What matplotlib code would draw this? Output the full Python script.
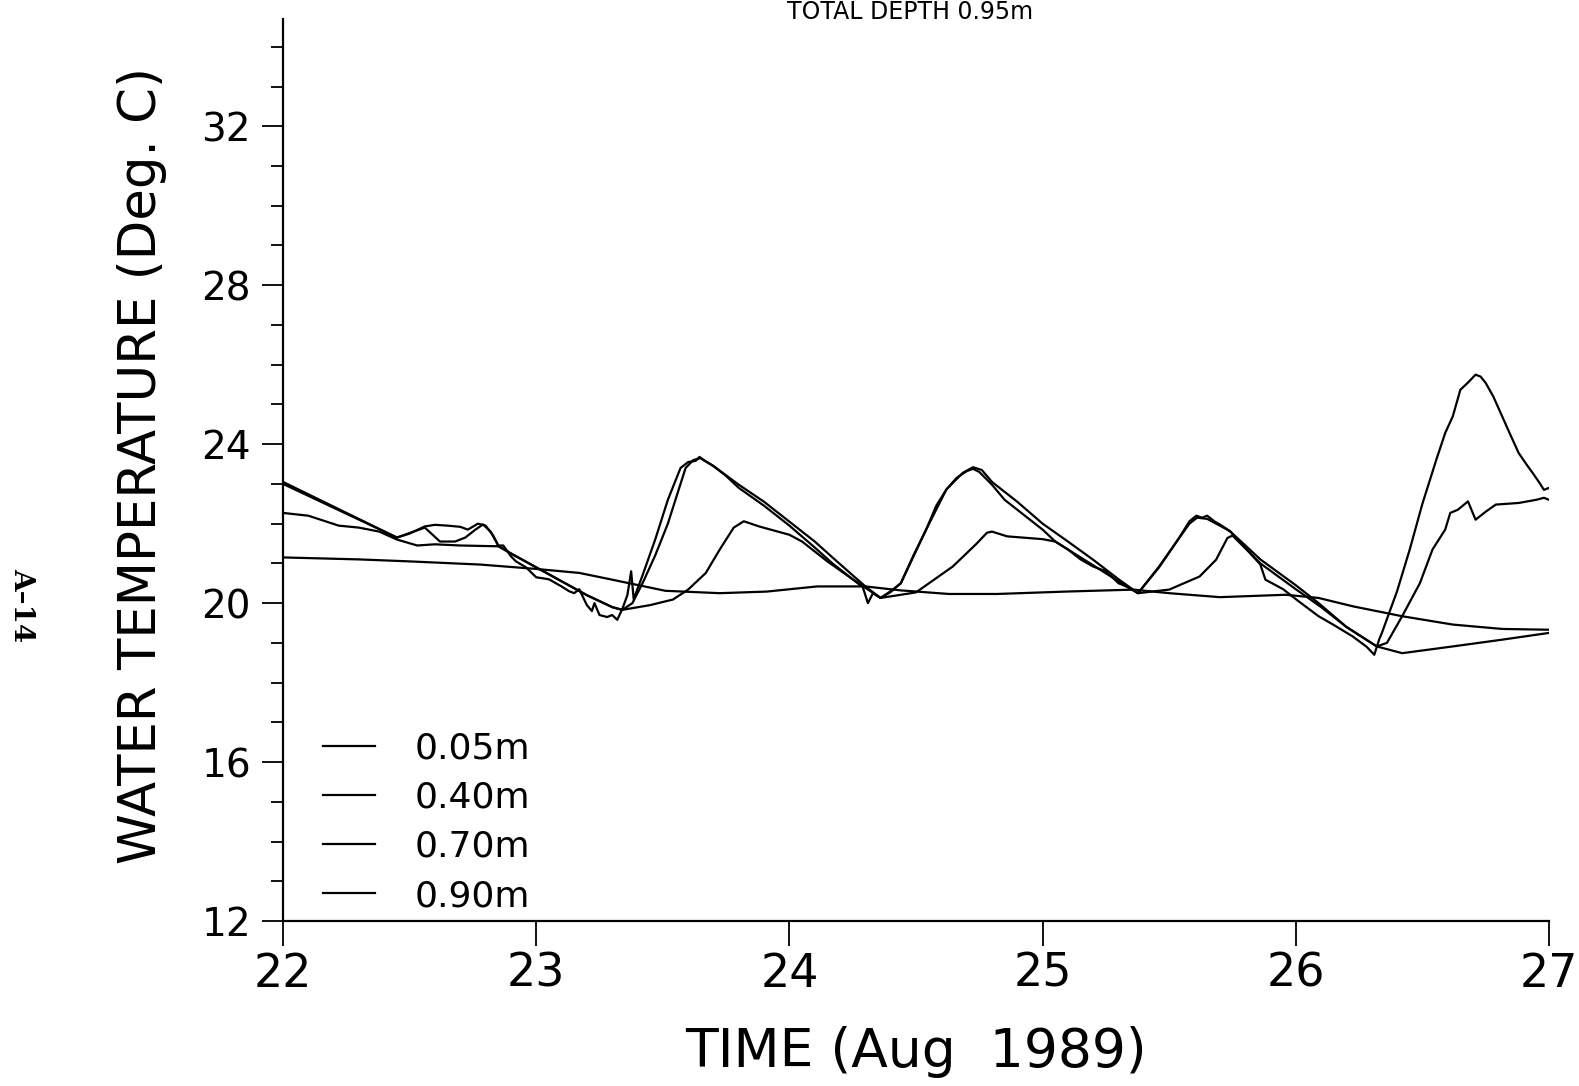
import matplotlib
matplotlib.use("Agg")
import matplotlib.pyplot as plt
from matplotlib.ticker import MultipleLocator

# ---- data ----
t_005 = [22.00, 22.10, 22.20, 22.30, 22.40, 22.45, 22.50, 22.56, 22.60, 22.65, 22.70, 22.73,
         22.77, 22.80, 22.83, 22.85, 22.87, 22.90, 22.92, 22.96, 23.00, 23.05, 23.10, 23.13,
         23.15, 23.17, 23.20, 23.22, 23.23, 23.25, 23.28, 23.30, 23.32, 23.34, 23.36, 23.375,
         23.385, 23.42, 23.47, 23.52, 23.57, 23.60, 23.63, 23.645, 23.66, 23.70, 23.75, 23.80,
         23.90, 24.00, 24.10, 24.17, 24.20, 24.25, 24.29, 24.31, 24.33, 24.36, 24.40, 24.44,
         24.49, 24.54, 24.58, 24.62, 24.66, 24.70, 24.725, 24.75, 24.80, 24.85, 24.90, 25.00,
         25.05, 25.10, 25.15, 25.20, 25.25, 25.30, 25.33, 25.377, 25.46, 25.535, 25.58, 25.607,
         25.63, 25.65, 25.68, 25.70, 25.74, 25.80, 25.86, 25.88, 25.95, 26.00, 26.09, 26.15,
         26.225, 26.28, 26.31, 26.33, 26.34, 26.40, 26.45, 26.50, 26.555, 26.59, 26.62, 26.65,
         26.68, 26.71, 26.73, 26.75, 26.78, 26.815, 26.85, 26.88, 26.91, 26.935, 26.96, 26.98, 27.00]
v_005 = [23.00, 22.70, 22.40, 22.10, 21.80, 21.65, 21.75, 21.93, 21.97, 21.95, 21.92, 21.85,
         22.00, 21.95, 21.70, 21.45, 21.45, 21.18, 21.05, 20.90, 20.65, 20.60, 20.42, 20.30,
         20.25, 20.35, 19.95, 19.80, 20.00, 19.70, 19.65, 19.70, 19.58, 19.85, 20.20, 20.80,
         20.10, 20.70, 21.60, 22.60, 23.40, 23.55, 23.58, 23.68, 23.60, 23.45, 23.20, 22.90,
         22.45, 21.95, 21.40, 21.00, 20.85, 20.60, 20.40, 20.00, 20.25, 20.13, 20.30, 20.50,
         21.20, 21.85, 22.45, 22.86, 23.15, 23.32, 23.38, 23.30, 22.98, 22.60, 22.35, 21.85,
         21.55, 21.35, 21.10, 20.92, 20.80, 20.50, 20.42, 20.25, 20.92, 21.60, 22.06, 22.20,
         22.15, 22.20, 22.05, 21.98, 21.81, 21.40, 20.97, 20.59, 20.35, 20.10, 19.67, 19.45,
         19.16, 18.90, 18.70, 19.10, 19.25, 20.30, 21.35, 22.50, 23.61, 24.28, 24.70, 25.37,
         25.55, 25.75, 25.70, 25.54, 25.20, 24.70, 24.20, 23.78, 23.50, 23.28, 23.05, 22.85, 22.90]

t_040 = [22.00, 22.45, 22.56, 22.62, 22.68, 22.72, 22.76, 22.79, 22.82, 22.85, 22.90, 23.00,
         23.10, 23.20, 23.30, 23.34, 23.38, 23.42, 23.47, 23.52, 23.56, 23.59, 23.62, 23.65,
         23.70, 23.80, 23.90, 24.00, 24.10, 24.17, 24.25, 24.30, 24.36, 24.40, 24.44, 24.54,
         24.62, 24.685, 24.725, 24.76, 24.80, 24.90, 25.00, 25.10, 25.20, 25.30, 25.377, 25.46,
         25.535, 25.58, 25.61, 25.65, 25.70, 25.74, 25.86, 26.00, 26.09, 26.20, 26.32, 26.36,
         26.42, 26.49, 26.54, 26.59, 26.61, 26.64, 26.68, 26.71, 26.75, 26.79, 26.88, 26.95,
         26.98, 27.00]
v_040 = [23.05, 21.65, 21.90, 21.55, 21.55, 21.65, 21.85, 21.98, 21.80, 21.45, 21.25, 20.90,
         20.55, 20.20, 19.90, 19.83, 20.00, 20.50, 21.20, 22.00, 22.80, 23.40, 23.60, 23.65,
         23.45, 22.98, 22.55, 22.05, 21.55, 21.15, 20.70, 20.42, 20.13, 20.28, 20.50, 21.85,
         22.86, 23.28, 23.42, 23.35, 23.05, 22.55, 22.00, 21.55, 21.09, 20.60, 20.25, 20.90,
         21.60, 22.00, 22.15, 22.12, 21.95, 21.81, 21.10, 20.45, 20.00, 19.40, 18.91, 19.00,
         19.67, 20.50, 21.35, 21.85, 22.27, 22.35, 22.56, 22.10, 22.30, 22.48, 22.52, 22.60,
         22.65, 22.60]

t_070 = [22.00, 22.10, 22.22, 22.30, 22.38, 22.45, 22.53, 22.60, 22.70, 22.85, 22.90, 23.00,
         23.10, 23.20, 23.30, 23.34, 23.45, 23.54, 23.60, 23.67, 23.725, 23.78, 23.82, 23.88,
         24.00, 24.05, 24.15, 24.25, 24.36, 24.50, 24.645, 24.74, 24.78, 24.80, 24.86, 25.00,
         25.05, 25.20, 25.30, 25.377, 25.50, 25.62, 25.685, 25.73, 25.75, 25.86, 26.00, 26.10,
         26.20, 26.32, 26.42, 26.62, 26.815, 27.00]
v_070 = [22.27, 22.20, 21.95, 21.90, 21.80, 21.60, 21.45, 21.48, 21.45, 21.43, 21.25, 20.90,
         20.55, 20.20, 19.90, 19.83, 19.95, 20.09, 20.34, 20.76, 21.35, 21.90, 22.06, 21.93,
         21.72, 21.55, 21.05, 20.60, 20.13, 20.27, 20.92, 21.50, 21.77, 21.80, 21.68, 21.61,
         21.55, 20.95, 20.55, 20.25, 20.34, 20.67, 21.09, 21.64, 21.70, 21.00, 20.35, 19.90,
         19.40, 18.91, 18.74, 18.91, 19.08, 19.25]

t_090 = [22.00, 22.30, 22.50, 22.78, 23.00, 23.17, 23.30, 23.51, 23.725, 23.91, 24.11, 24.30,
         24.44, 24.63, 24.82, 25.09, 25.36, 25.50, 25.70, 25.96, 26.09, 26.225, 26.42, 26.62,
         26.815, 27.00]
v_090 = [21.15, 21.10, 21.05, 20.97, 20.86, 20.76, 20.59, 20.31, 20.25, 20.29, 20.42, 20.42,
         20.32, 20.23, 20.23, 20.29, 20.34, 20.25, 20.15, 20.21, 20.13, 19.92, 19.67, 19.46,
         19.35, 19.33]

series_labels = ["0.05m", "0.40m", "0.70m", "0.90m"]
x_ticks = [22, 23, 24, 25, 26, 27]
y_ticks = [12, 16, 20, 24, 28, 32]

# ---- figure ----
W, H = 1579, 1086
fig = plt.figure(figsize=(W / 100, H / 100), dpi=100)
left, right, bottom_px, top_px = 283, 1549, 921, 19
ax = fig.add_axes([left / W, 1 - bottom_px / H, (right - left) / W, (bottom_px - top_px) / H])

for t, v, lab in zip([t_005, t_040, t_070, t_090], [v_005, v_040, v_070, v_090], series_labels):
    ax.plot(t, v, color="black", lw=1.6, label=lab)

ax.set_xlim(22, 27)
ax.set_ylim(12, 34.7)
ax.set_xticks(x_ticks)
ax.set_yticks(y_ticks)
ax.yaxis.set_minor_locator(MultipleLocator(1))
ax.spines["top"].set_visible(False)
ax.spines["right"].set_visible(False)
for s in ("left", "bottom"):
    ax.spines[s].set_linewidth(1.6)
ax.tick_params(axis="y", which="major", direction="out", length=15, width=1.3, pad=8, labelsize=28)
ax.tick_params(axis="y", which="minor", direction="out", length=8.5, width=1.3)
ax.tick_params(axis="x", which="major", direction="out", length=18, width=1.3, pad=4, labelsize=33)

fig.text(142 / W, 1 - 465 / H, "WATER TEMPERATURE (Deg. C)", rotation=90,
         ha="center", va="center", fontsize=37)
fig.text(916 / W, 1 - 1052 / H, "TIME (Aug  1989)", ha="center", va="center", fontsize=38.5)
fig.text(910 / W, 1 - 19 / H, "TOTAL DEPTH 0.95m", ha="center", va="baseline", fontsize=17)
fig.text(22 / W, 1 - 605 / H, "A\u201314", rotation=-90, ha="center", va="center",
         fontsize=20, fontweight="bold", family="DejaVu Serif")

leg = ax.legend(loc="upper left", bbox_to_anchor=(0.0315, 0.21), frameon=False,
                fontsize=26, handlelength=1.45, handletextpad=1.1, labelspacing=0.42,
                borderpad=0, borderaxespad=0)
for line in leg.get_lines():
    line.set_linewidth(1.6)

fig.savefig("out.png", dpi=100)
